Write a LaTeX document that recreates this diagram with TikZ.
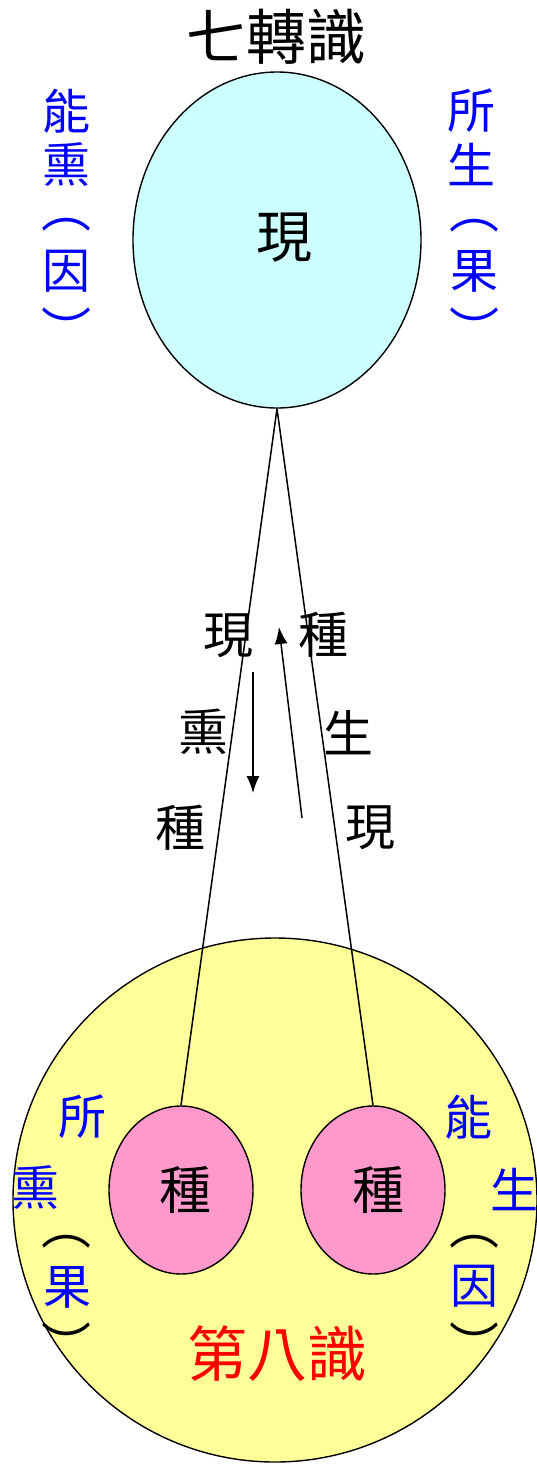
\documentclass[tikz,border=0pt]{standalone}
\usepackage{fontspec}
\setmainfont{Noto Sans CJK TC}
\usetikzlibrary{shapes.geometric, arrows.meta}

\definecolor{mindcyan}{RGB}{204,255,255}
\definecolor{alayayellow}{RGB}{255,255,153}
\definecolor{seedpink}{RGB}{255,153,204}

\tikzset{
    han/.style={font=\fontsize{50}{50}\selectfont, inner sep=0pt},
    sidehan/.style={font=\fontsize{48}{48}\selectfont, inner sep=0pt, text=blue},
    parenopen/.style={font=\fontsize{50}{50}\selectfont, inner sep=0pt},
    parenclose/.style={font=\fontsize{50}{50}\selectfont, inner sep=0pt, anchor=north},
    bighan/.style={font=\fontsize{60}{60}\selectfont, inner sep=0pt},
    seed/.style={ellipse, draw, line width=1.4pt, fill=seedpink, minimum width=144pt, minimum height=168pt},
    flow/.style={line width=1.5pt, -{Latex[length=17pt, width=13pt]}}
}

\begin{document}
\begin{tikzpicture}[x=1pt, y=-1pt]
    \useasboundingbox (0,0) rectangle (536,1465);

    % Eighth consciousness - big circle
    \node[circle, draw, line width=1.4pt, fill=alayayellow, minimum size=524pt] (alaya) at (275,1200) {};

    % Seeds
    \node[seed] (seedL) at (181,1190) {};
    \node[seed] (seedR) at (373,1190) {};
    \node[han, font=\fontsize{52}{52}\selectfont] at (185,1190) {種};
    \node[han, font=\fontsize{52}{52}\selectfont] at (378,1190) {種};

    % Seven consciousnesses - top ellipse
    \node[ellipse, draw, line width=1.4pt, fill=mindcyan, minimum width=288pt, minimum height=336pt] (top) at (277,240) {};
    \node[han, font=\fontsize{56}{56}\selectfont] at (284,238) {現};
    \node[bighan] (title) at (276,37) {七轉識};

    % Connecting lines
    \draw[line width=1.5pt] (top.south) -- (seedL.north);
    \draw[line width=1.5pt] (top.south) -- (seedR.north);

    % Top side labels
    \node[sidehan] at (66,111) {能};
    \node[sidehan] at (66,164) {熏};
    \node[parenopen, text=blue] at (66,225) {︵};
    \node[sidehan] at (66,271) {因};
    \node[parenclose, text=blue] at (66,308) {︶};
    \node[sidehan] at (471,111) {所};
    \node[sidehan] at (471,164) {生};
    \node[parenopen, text=blue] at (474,226) {︵};
    \node[sidehan] at (474,271) {果};
    \node[parenclose, text=blue] at (474,308) {︶};

    % Middle labels
    \node[han] at (228,636) {現};
    \node[han] at (203,732) {熏};
    \node[han] at (180,828) {種};
    \node[han] at (323,635) {種};
    \node[han] at (348,733) {生};
    \node[han] at (370,828) {現};

    % Arrows
    \coordinate (xunA) at (253,672);
    \coordinate (xunB) at (253,793);
    \coordinate (shengA) at (302,818);
    \coordinate (shengB) at (279,627);
    \draw[flow] (xunA) -- (xunB);
    \draw[flow] (shengA) -- (shengB);

    % Bottom side labels
    \node[sidehan] at (82,1117) {所};
    \node[sidehan] at (36,1187) {熏};
    \node[parenopen] at (66,1242) {︵};
    \node[sidehan] at (67,1287) {果};
    \node[parenclose] at (66,1323) {︶};
    \node[sidehan] at (468,1117) {能};
    \node[sidehan] at (514,1189) {生};
    \node[parenopen] at (474,1242) {︵};
    \node[sidehan] at (474,1286) {因};
    \node[parenclose] at (474,1323) {︶};

    % Eighth consciousness label
    \node[bighan, text=red] (eighth) at (277,1354) {第八識};
\end{tikzpicture}
\end{document}
